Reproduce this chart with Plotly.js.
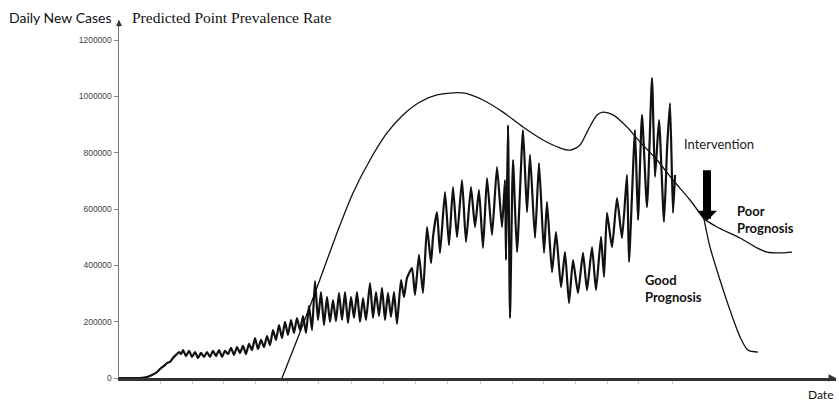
<!DOCTYPE html>
<html><head><meta charset="utf-8">
<script src="https://cdn.plot.ly/plotly-3.0.1.min.js"></script>
<style>html,body{margin:0;padding:0;background:#fff}#chart{width:839px;height:402px}</style>
</head><body><div id="chart"></div>
<script>
// Daily new cases (day index, cases)
const caseDay = [0,21,28,33,38,41,45,48,51,54,57,60,62,64,67,70,73,76,79,82,85,88,91,94,97,100,103,106,109,112,115,118,121,124,127,130,133,136,139,142,145,148,151,154,157,160,163,166,169,172,175,178,181,184,187,190,193,196,199,202,205,208,211,214,217,220,223,226,229,232,235,238,241,244,247,251,254,257,260,263,266,269,272,275,278,282,285,288,293,296,300,304,308,312,314,318,321,326,330,334,338,343,347,352,356,360,364,368,373,378,383,386,387,389,391,394,398,404,408,411,416,420,425,428,433,437,442,446,450,454,459,464,468,473,477,482,485,488,493,498,503,508,510,516,519,523,528,533,536,540,545,548,551,554,556];
const cases = [0,0,3500,11000,21000,32000,43000,53000,57000,71000,82000,92000,85000,99000,78000,96000,75000,92000,71000,89000,75000,92000,75000,96000,78000,99000,75000,96000,85000,107000,82000,110000,89000,114000,85000,121000,99000,142000,103000,135000,110000,149000,117000,170000,135000,188000,142000,199000,153000,206000,160000,213000,170000,220000,160000,256000,170000,344000,206000,305000,188000,288000,199000,277000,202000,302000,206000,305000,195000,288000,213000,305000,199000,284000,206000,337000,213000,305000,220000,320000,206000,302000,217000,305000,192000,348000,288000,355000,390000,295000,437000,302000,536000,408000,500000,589000,444000,660000,472000,678000,500000,703000,483000,678000,536000,667000,462000,710000,508000,749000,536000,703000,419000,898000,213000,774000,447000,880000,589000,792000,497000,763000,444000,625000,376000,518000,323000,447000,266000,419000,302000,444000,312000,465000,312000,501000,359000,586000,465000,639000,497000,721000,412000,880000,561000,934000,607000,1065000,714000,916000,554000,809000,976000,586000,721000];

// Predicted point prevalence rate
const prevDay = [163,178,196,218,234,251,268,284,301,318,344,364,384,404,424,441,451,461,469,478,484,494,508,521,538,554,571,585];
const prevRate = [0,135000,302000,515000,657000,774000,870000,934000,980000,1005000,1012000,987000,944000,891000,845000,817000,809000,827000,880000,934000,944000,934000,891000,838000,774000,703000,632000,564000];

// Poor prognosis branch
const poorDay = [585,598,621,638,648,661,673];
const poorRate = [564000,536000,497000,462000,447000,444000,447000];

// Good prognosis branch
const goodDay = [585,591,601,611,621,629,639];
const goodRate = [564000,465000,348000,241000,146000,99000,92000];

const yTicks = [0,200000,400000,600000,800000,1000000,1200000];
const xTicks = [41,73,104,136,168,199,232,264,296,328,361,393,424,456,488,519,553];

const interventionDay = 588, interventionTip = 558000;

const traces = [
  {x: caseDay, y: cases, mode:'lines', line:{color:'#111', width:2.2, shape:'spline', smoothing:0.5}, hoverinfo:'skip'},
  {x: prevDay, y: prevRate, mode:'lines', line:{color:'#111', width:1.3, shape:'spline', smoothing:0.8}, hoverinfo:'skip'},
  {x: poorDay, y: poorRate, mode:'lines', line:{color:'#111', width:1.3, shape:'spline', smoothing:0.8}, hoverinfo:'skip'},
  {x: goodDay, y: goodRate, mode:'lines', line:{color:'#111', width:1.3, shape:'spline', smoothing:0.8}, hoverinfo:'skip'}
];

const layout = {
  width:839, height:402,
  margin:{l:119, r:3, t:20, b:24},
  paper_bgcolor:'#fff', plot_bgcolor:'#fff',
  showlegend:false,
  xaxis:{range:[0,717], showgrid:false, zeroline:false, showline:true, linecolor:'#333', linewidth:2.5,
         tickmode:'array', tickvals:xTicks, ticks:'outside', ticklen:3, tickcolor:'#ccc', tickwidth:1, showticklabels:false},
  yaxis:{range:[0,1271000], showgrid:false, zeroline:false, showline:true, linecolor:'#777', linewidth:1.5,
         tickmode:'array', tickvals:yTicks, tickformat:'d', ticks:'outside', ticklen:4, tickcolor:'#888',
         tickfont:{family:'Liberation Sans, Arial', size:8.5, color:'#444'}},
  annotations:[
    {xref:'paper', yref:'paper', x:-0.0084, y:1.0056, xanchor:'right', yanchor:'middle', showarrow:false,
     text:'Daily New Cases', font:{family:'Lato', size:14, color:'#111'}},
    {xref:'paper', yref:'paper', x:0.0153, y:1.0056, xanchor:'left', yanchor:'middle', showarrow:false,
     text:'Predicted Point Prevalence Rate', font:{family:'Liberation Serif, Times New Roman', size:15.5, color:'#111'}},
    {xref:'paper', yref:'paper', x:0.9986, y:-0.045, xanchor:'right', yanchor:'middle', showarrow:false,
     text:'Date', font:{family:'Lato', size:12, color:'#111'}},
    {x:600, y:830700, xanchor:'center', yanchor:'middle', showarrow:false,
     text:'Intervention', font:{family:'Lato', size:13, color:'#222'}},
    {x:616, y:564000, xanchor:'left', yanchor:'middle', align:'left', showarrow:false,
     text:'<b>Poor</b><br><b>Prognosis</b>', font:{family:'Lato', size:13, color:'#111'}},
    {x:524, y:318000, xanchor:'left', yanchor:'middle', align:'left', showarrow:false,
     text:'<b>Good</b><br><b>Prognosis</b>', font:{family:'Lato', size:13, color:'#111'}},
    {x:interventionDay, y:interventionTip, ax:0, ay:-52, showarrow:true, arrowhead:1, arrowsize:0.42,
     arrowwidth:8, arrowcolor:'#000', text:''},
    {xref:'paper', yref:'paper', x:1, y:0, ax:-8, ay:0, showarrow:true, arrowhead:2, arrowsize:1,
     arrowwidth:1.5, arrowcolor:'#333', text:''},
    {xref:'paper', yref:'paper', x:0, y:1, ax:0, ay:8, showarrow:true, arrowhead:2, arrowsize:1,
     arrowwidth:1.2, arrowcolor:'#333', text:''}
  ]
};
Plotly.newPlot('chart', traces, layout, {displayModeBar:false, staticPlot:true});
</script></body></html>
